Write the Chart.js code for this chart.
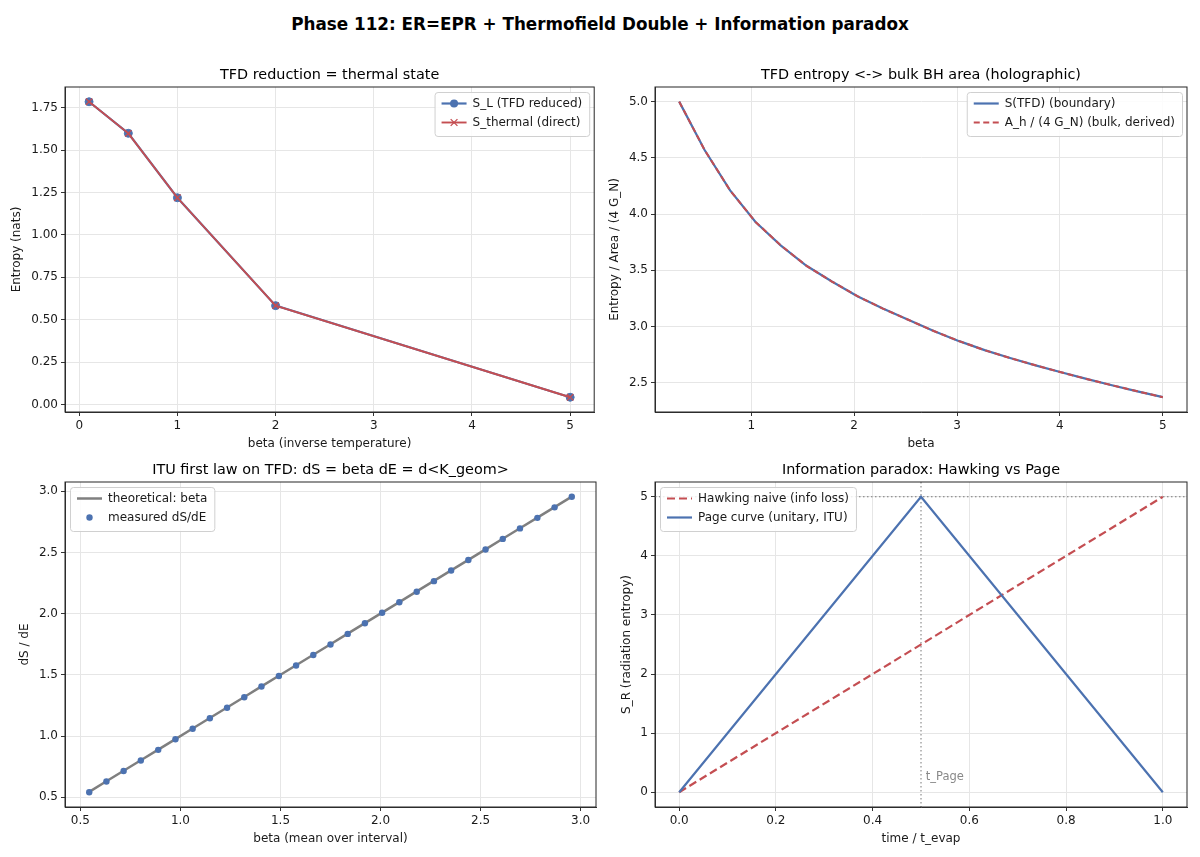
<!DOCTYPE html>
<html>
<head>
<meta charset="utf-8">
<script src="https://cdn.jsdelivr.net/npm/chart.js@4.4.1/dist/chart.umd.min.js"></script>
<style>
html, body { margin: 0; padding: 0; background: #fff; }
body { width: 1200px; height: 857px; position: relative; overflow: hidden; font-family: "DejaVu Sans", sans-serif; }
#sup { position: absolute; left: 0; top: 13px; width: 1200px; text-align: center; font-weight: bold; font-size: 16.8px; line-height: 22px; color: #000; }
canvas { position: absolute; }
</style>
</head>
<body>
<div id="sup">Phase 112: ER=EPR + Thermofield Double + Information paradox</div>
<canvas id="c1" width="600" height="400" style="left:0px;top:57px"></canvas>
<canvas id="c2" width="600" height="400" style="left:590px;top:57px"></canvas>
<canvas id="c3" width="600" height="400" style="left:0px;top:452px"></canvas>
<canvas id="c4" width="600" height="400" style="left:590px;top:452px"></canvas>
<script>
// panel 1: TFD reduction = thermal state
const beta1 = [0.1, 0.5, 1, 2, 5];
const sReduced = [1.785, 1.599, 1.219, 0.583, 0.043];
const sThermal = [1.785, 1.599, 1.219, 0.583, 0.043];
const ticks1x = [0, 1, 2, 3, 4, 5];
const ticks1y = [0, 0.25, 0.5, 0.75, 1.0, 1.25, 1.5, 1.75];

// panel 2: TFD entropy vs bulk area
const beta2 = [0.30, 0.547, 0.795, 1.042, 1.289, 1.537, 1.784, 2.032, 2.279, 2.526,
               2.774, 3.021, 3.268, 3.516, 3.763, 4.011, 4.258, 4.505, 4.753, 5.00];
const sBoundary = [5.00, 4.57, 4.21, 3.93, 3.72, 3.54, 3.40, 3.27, 3.16, 3.06,
                   2.96, 2.87, 2.79, 2.72, 2.655, 2.593, 2.534, 2.478, 2.424, 2.372];
const areaBulk = [5.00, 4.57, 4.21, 3.93, 3.72, 3.54, 3.40, 3.27, 3.16, 3.06,
                  2.96, 2.87, 2.79, 2.72, 2.655, 2.593, 2.534, 2.478, 2.424, 2.372];
const ticks2x = [1, 2, 3, 4, 5];
const ticks2y = [2.5, 3.0, 3.5, 4.0, 4.5, 5.0];

// panel 3: first law
const betaMid = [0.544, 0.630, 0.716, 0.802, 0.889, 0.975, 1.061, 1.147, 1.233, 1.319,
                 1.405, 1.492, 1.578, 1.664, 1.750, 1.836, 1.922, 2.008, 2.094, 2.181,
                 2.267, 2.353, 2.439, 2.525, 2.611, 2.697, 2.784, 2.870, 2.956];
const dSdE = [0.541, 0.628, 0.714, 0.800, 0.887, 0.973, 1.059, 1.145, 1.231, 1.317,
              1.404, 1.490, 1.576, 1.662, 1.748, 1.834, 1.921, 2.007, 2.093, 2.179,
              2.265, 2.352, 2.438, 2.524, 2.610, 2.696, 2.782, 2.868, 2.954];
const ticks3 = [0.5, 1.0, 1.5, 2.0, 2.5, 3.0];

// panel 4: Hawking vs Page
const tHawking = [0, 1];
const sHawking = [0, 5];
const tPage = [0, 0.5, 1];
const sPage = [0, 5, 0];
const tPageMark = 0.5;
const sMax = 5;
const ticks4x = [0, 0.2, 0.4, 0.6, 0.8, 1.0];
const ticks4y = [0, 1, 2, 3, 4, 5];

const FONT = "'DejaVu Sans', sans-serif";
const BLUE = '#4c72b0', RED = '#c44e52', GRAY = '#7f7f7f', INK = '#1a1a1a';

const pts = (xs, ys) => xs.map((x, i) => ({ x: x, y: ys[i] }));

function axis(title, ticks, min, max, dec, horizontal, pad) {
  return {
    type: 'linear', min: min, max: max, bounds: 'data',
    position: horizontal ? 'bottom' : 'left',
    afterBuildTicks: s => { s.ticks = ticks.map(v => ({ value: v })); },
    afterFit: s => { if (horizontal) s.height = 45; else s.width = 65; },
    ticks: { callback: v => v.toFixed(dec), font: { family: FONT, size: 12 }, color: INK,
             padding: 3, maxRotation: 0, autoSkip: false },
    grid: { color: '#e6e6e6', lineWidth: 1, tickColor: '#333', tickLength: 4, tickWidth: 1 },
    border: { display: true, color: '#333', width: 1 },
    title: { display: true, text: title, font: { family: FONT, size: 12 }, color: INK,
             padding: horizontal ? { top: 0, bottom: 6 } : { top: pad, bottom: 0 } }
  };
}

// matplotlib-ish frame, subplot title, legend and reference lines
const mpl = {
  id: 'mpl',
  beforeDatasetsDraw(chart, args, o) {
    const { ctx, chartArea: a, scales } = chart;
    ctx.save();
    ctx.beginPath(); ctx.rect(a.left, a.top, a.width, a.height); ctx.clip();
    ctx.strokeStyle = '#777'; ctx.lineWidth = 1; ctx.setLineDash([1.5, 2.5]);
    (o.vlines || []).forEach(v => {
      const px = scales.x.getPixelForValue(v);
      ctx.beginPath(); ctx.moveTo(px, a.top); ctx.lineTo(px, a.bottom); ctx.stroke();
    });
    (o.hlines || []).forEach(v => {
      const py = scales.y.getPixelForValue(v);
      ctx.beginPath(); ctx.moveTo(a.left, py); ctx.lineTo(a.right, py); ctx.stroke();
    });
    ctx.restore();
  },
  afterDatasetsDraw(chart, args, o) {
    const { ctx, chartArea: a, scales } = chart;
    ctx.save();
    (o.notes || []).forEach(n => {
      ctx.font = '11.5px ' + FONT; ctx.fillStyle = '#888';
      ctx.textAlign = 'left'; ctx.textBaseline = 'alphabetic';
      ctx.fillText(n.text, scales.x.getPixelForValue(n.x), scales.y.getPixelForValue(n.y));
    });
    ctx.strokeStyle = '#262626'; ctx.lineWidth = 1; ctx.setLineDash([]);
    ctx.strokeRect(a.left, a.top, a.width, a.height);
    // title
    ctx.font = '14.4px ' + FONT; ctx.fillStyle = '#000';
    ctx.textAlign = 'center'; ctx.textBaseline = 'middle';
    ctx.fillText(o.title, (a.left + a.right) / 2, a.top - 12);
    // legend
    const sets = chart.data.datasets;
    ctx.font = '12px ' + FONT;
    const tw = Math.max(...sets.map(d => ctx.measureText(d.label).width));
    const w = 38 + tw + 7, h = 44;
    const x0 = o.legend === 'ur' ? a.right - 5 - w : a.left + 5, y0 = a.top + 5;
    ctx.beginPath(); ctx.roundRect(x0 + 0.5, y0 + 0.5, w, h, 3);
    ctx.fillStyle = 'rgba(255,255,255,0.85)'; ctx.fill();
    ctx.strokeStyle = '#d0d0d0'; ctx.stroke();
    sets.forEach((d, i) => {
      const cy = y0 + 11.5 + 19 * i;
      if (d.showLine) {
        ctx.strokeStyle = d.borderColor; ctx.lineWidth = d.borderWidth;
        ctx.setLineDash(d.borderDash || []);
        ctx.beginPath(); ctx.moveTo(x0 + 7, cy); ctx.lineTo(x0 + 32, cy); ctx.stroke();
        ctx.setLineDash([]);
      }
      if (d.pointRadius > 0) {
        const cx = x0 + 19.5, r = d.pointRadius;
        if (d.pointStyle === 'crossRot') {
          ctx.strokeStyle = d.pointBorderColor; ctx.lineWidth = d.pointBorderWidth;
          const k = r * 0.75;
          ctx.beginPath(); ctx.moveTo(cx - k, cy - k); ctx.lineTo(cx + k, cy + k);
          ctx.moveTo(cx - k, cy + k); ctx.lineTo(cx + k, cy - k); ctx.stroke();
        } else {
          ctx.fillStyle = d.pointBackgroundColor;
          ctx.beginPath(); ctx.arc(cx, cy, r, 0, Math.PI * 2); ctx.fill();
        }
      }
      ctx.fillStyle = INK; ctx.textAlign = 'left'; ctx.textBaseline = 'middle';
      ctx.fillText(d.label, x0 + 38, cy);
    });
    ctx.restore();
  }
};
Chart.register(mpl);

function panel(id, datasets, xAxis, yAxis, extra) {
  return new Chart(document.getElementById(id), {
    type: 'scatter',
    data: { datasets: datasets },
    options: {
      responsive: false, animation: false, events: [],
      layout: { padding: { top: 30, right: 3, left: 0, bottom: 0 } },
      scales: { x: xAxis, y: yAxis },
      plugins: { legend: { display: false }, tooltip: { enabled: false }, title: { display: false }, mpl: extra }
    }
  });
}

panel('c1', [
  { label: 'S_L (TFD reduced)', data: pts(beta1, sReduced), showLine: true, borderColor: BLUE, borderWidth: 2.2,
    pointRadius: 4, pointBackgroundColor: BLUE, pointBorderColor: BLUE, pointBorderWidth: 1, order: 2 },
  { label: 'S_thermal (direct)', data: pts(beta1, sThermal), showLine: true, borderColor: RED, borderWidth: 1.9,
    pointStyle: 'crossRot', pointRadius: 4.5, pointBorderColor: RED, pointBorderWidth: 1.3, order: 1 }
], axis('beta (inverse temperature)', ticks1x, -0.145, 5.245, 0, true),
   axis('Entropy (nats)', ticks1y, -0.044, 1.872, 2, false, 9.8),
   { title: 'TFD reduction = thermal state', legend: 'ur' });

panel('c2', [
  { label: 'S(TFD) (boundary)', data: pts(beta2, sBoundary), showLine: true, borderColor: BLUE, borderWidth: 2.2,
    pointRadius: 0, order: 2 },
  { label: 'A_h / (4 G_N) (bulk, derived)', data: pts(beta2, areaBulk), showLine: true, borderColor: RED, borderWidth: 2,
    borderDash: [6, 3.5], pointRadius: 0, order: 1 }
], axis('beta', ticks2x, 0.065, 5.235, 0, true),
   axis('Entropy / Area / (4 G_N)', ticks2y, 2.24, 5.13, 1, false, 17.4),
   { title: 'TFD entropy <-> bulk BH area (holographic)', legend: 'ur' });

panel('c3', [
  { label: 'theoretical: beta', data: pts(betaMid, betaMid), showLine: true, borderColor: GRAY, borderWidth: 2.5,
    pointRadius: 0, order: 2 },
  { label: 'measured dS/dE', data: pts(betaMid, dSdE), showLine: false,
    pointRadius: 3.2, pointBackgroundColor: BLUE, pointBorderColor: BLUE, pointBorderWidth: 0, order: 1 }
], axis('beta (mean over interval)', ticks3, 0.423, 3.077, 1, true),
   axis('dS / dE', ticks3, 0.42, 3.075, 1, false, 17.8),
   { title: 'ITU first law on TFD: dS = beta dE = d<K_geom>', legend: 'ul' });

panel('c4', [
  { label: 'Hawking naive (info loss)', data: pts(tHawking, sHawking), showLine: true, borderColor: RED, borderWidth: 2.2,
    borderDash: [8, 4], pointRadius: 0, order: 2 },
  { label: 'Page curve (unitary, ITU)', data: pts(tPage, sPage), showLine: true, borderColor: BLUE, borderWidth: 2.2,
    pointRadius: 0, order: 1 }
], axis('time / t_evap', ticks4x, -0.05, 1.05, 1, true),
   axis('S_R (radiation entropy)', ticks4y, -0.25, 5.25, 0, false, 29.6),
   { title: 'Information paradox: Hawking vs Page', legend: 'ul', vlines: [tPageMark], hlines: [sMax],
     notes: [{ x: 0.51, y: 0.2, text: 't_Page' }] });
</script>
</body>
</html>
